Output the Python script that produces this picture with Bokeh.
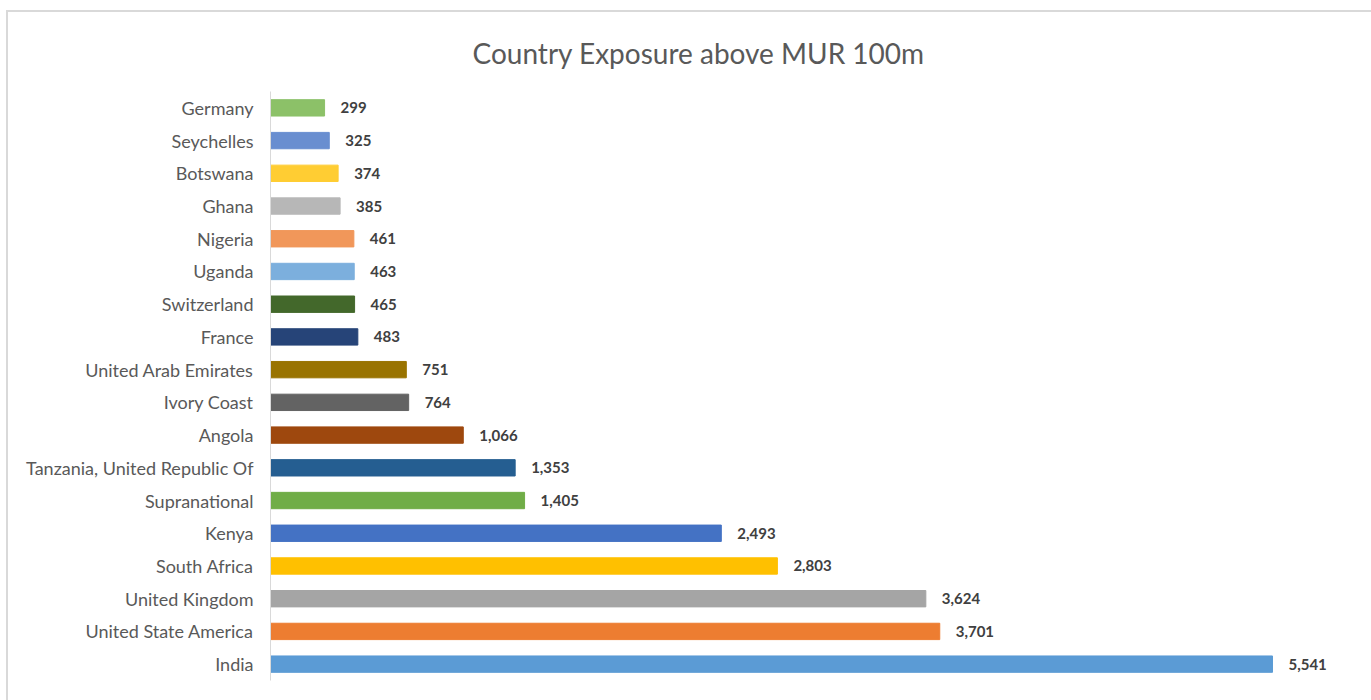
from bokeh.plotting import figure
from bokeh.models import ColumnDataSource, FactorRange, Range1d, LabelSet
from bokeh.core.properties import value
from bokeh.embed import file_html
from bokeh.resources import INLINE

countries = ["Germany", "Seychelles", "Botswana", "Ghana", "Nigeria", "Uganda",
             "Switzerland", "France", "United Arab Emirates", "Ivory Coast", "Angola",
             "Tanzania, United Republic Of", "Supranational", "Kenya", "South Africa",
             "United Kingdom", "United State America", "India"]
values = [299, 325, 374, 385, 461, 463, 465, 483, 751, 764, 1066, 1353, 1405,
          2493, 2803, 3624, 3701, 5541]
colors = ["#8CC168", "#698ED0", "#FFCD33", "#B7B7B7", "#F1975A", "#7CAFDD",
          "#43682B", "#264478", "#997300", "#636363", "#9E480E", "#255E91",
          "#70AD47", "#4472C4", "#FFC000", "#A5A5A5", "#ED7D31", "#5B9BD5"]
title = "Country Exposure above MUR 100m"

src = ColumnDataSource(dict(
    country=countries, value=values, color=colors,
    label=["{:,}".format(v) for v in values],
))

FONT = "Lato"

p = figure(width=1365, height=690, output_backend="svg", toolbar_location=None,
           y_range=FactorRange(factors=list(reversed(countries))),
           x_range=Range1d(0, 6000),
           min_border_left=262, min_border_right=18, min_border_top=78,
           min_border_bottom=22, margin=(10, 0, 0, 6),
           styles={"border-top": "2px solid #d9d9d9", "border-left": "2px solid #d9d9d9"})
p.outline_line_color = None
p.grid.visible = False
p.xaxis.visible = False

p.title.text = title
p.title.align = "left"
p.title.offset = 202
p.title.standoff = 43
p.title.text_line_height = 0.6
p.title.text_font = FONT
p.title.text_font_size = "28px"
p.title.text_font_style = "normal"
p.title.text_color = "#595959"

p.hbar(y="country", right="value", left=0, height=0.5, color="color", source=src)

p.yaxis.axis_line_color = "#d9d9d9"
p.yaxis.major_tick_line_color = None
p.yaxis.minor_tick_line_color = None
p.yaxis.major_label_text_font = FONT
p.yaxis.major_label_text_font_size = "18px"
p.yaxis.major_label_text_color = "#595959"
p.yaxis.major_label_standoff = 11

labels = LabelSet(x="value", y="country", text="label", source=src,
                  x_offset=16, text_baseline="middle", text_font=value(FONT),
                  text_font_size="15px", text_font_style="bold",
                  text_color="#404040")
p.add_layout(labels)

open("out.html", "w").write(file_html(p, INLINE))
